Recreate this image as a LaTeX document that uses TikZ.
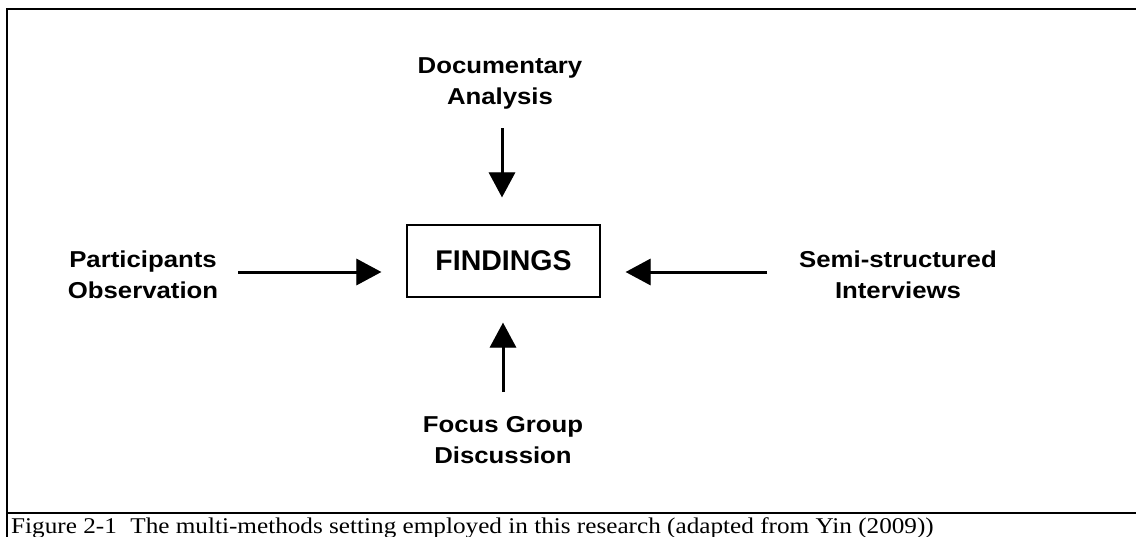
\documentclass[tikz,border=0pt]{standalone}
\usepackage{fontspec}
\usetikzlibrary{arrows.meta}
\setmainfont{Liberation Sans}
\newfontfamily\labelfont{Liberation Sans}[FakeStretch=1.12]
\newfontfamily\captionfont{Liberation Serif}[FakeStretch=1.12]
\begin{document}
\begin{tikzpicture}[x=1pt,y=-1pt,
  frame/.style={line width=2.2pt},
  method/.style={font=\labelfont\bfseries\fontsize{23}{31}\selectfont,
    align=center, inner sep=0pt, anchor=north},
  result/.style={draw, line width=1.3pt, minimum width=193pt,
    minimum height=72pt, inner sep=0pt,
    font=\bfseries\fontsize{28.5}{30}\selectfont},
  flow/.style={line width=3pt, -{Triangle[length=25pt,width=26pt]}},
  flowshade/.style={flow, draw=black, fill=black, opacity=0.09}
]
\useasboundingbox (0,0) rectangle (1136,536);

% outer frame of the figure and the caption rule
\draw[frame] (7,537) -- (7,9) -- (1137,9);
\draw[line width=2pt] (7,512.5) -- (1137,512.5);

% central result box
\node[result] (fd) at (503.5,261) {FINDINGS};

% the four data sources
\node[method] (doc) at (500,57.5)  {Documentary\\Analysis};
\node[method] (po)  at (143,250.5) {Participants\\Observation};
\node[method] (ssi) at (898,250.5) {Semi-structured\\Interviews};
\node[method] (fgd) at (503,416.5) {Focus Group\\Discussion};

% tails of the arrows
\coordinate (tl) at (238,272);
\coordinate (tr) at (767,272);
\coordinate (tt) at (502,128);
\coordinate (tb) at (503,392);

% soft drop shadows under the arrows
\foreach \dx/\dy in {2/3,3/4,4/5}{
  \begin{scope}[shift={(\dx,\dy)}]
    \draw[flowshade, shorten >=25pt] (tl) -- (tl -| fd.west);
    \draw[flowshade, shorten >=25pt] (tr) -- (tr -| fd.east);
    \draw[flowshade, shorten >=27pt] (tt) -- (tt |- fd.north);
    \draw[flowshade, shorten >=25pt] (tb) -- (tb |- fd.south);
  \end{scope}
}

% arrows into the result box
\draw[flow, shorten >=25pt] (tl) -- (tl -| fd.west);
\draw[flow, shorten >=25pt] (tr) -- (tr -| fd.east);
\draw[flow, shorten >=27pt] (tt) -- (tt |- fd.north);
\draw[flow, shorten >=25pt] (tb) -- (tb |- fd.south);

% caption
\node[anchor=base west, inner sep=0pt,
  font=\captionfont\fontsize{22.5}{24}\selectfont] (cap) at (11,533)
  {Figure 2-1\hspace{0.6em}The multi-methods setting employed in this research (adapted from Yin (2009))};
\end{tikzpicture}
\end{document}
